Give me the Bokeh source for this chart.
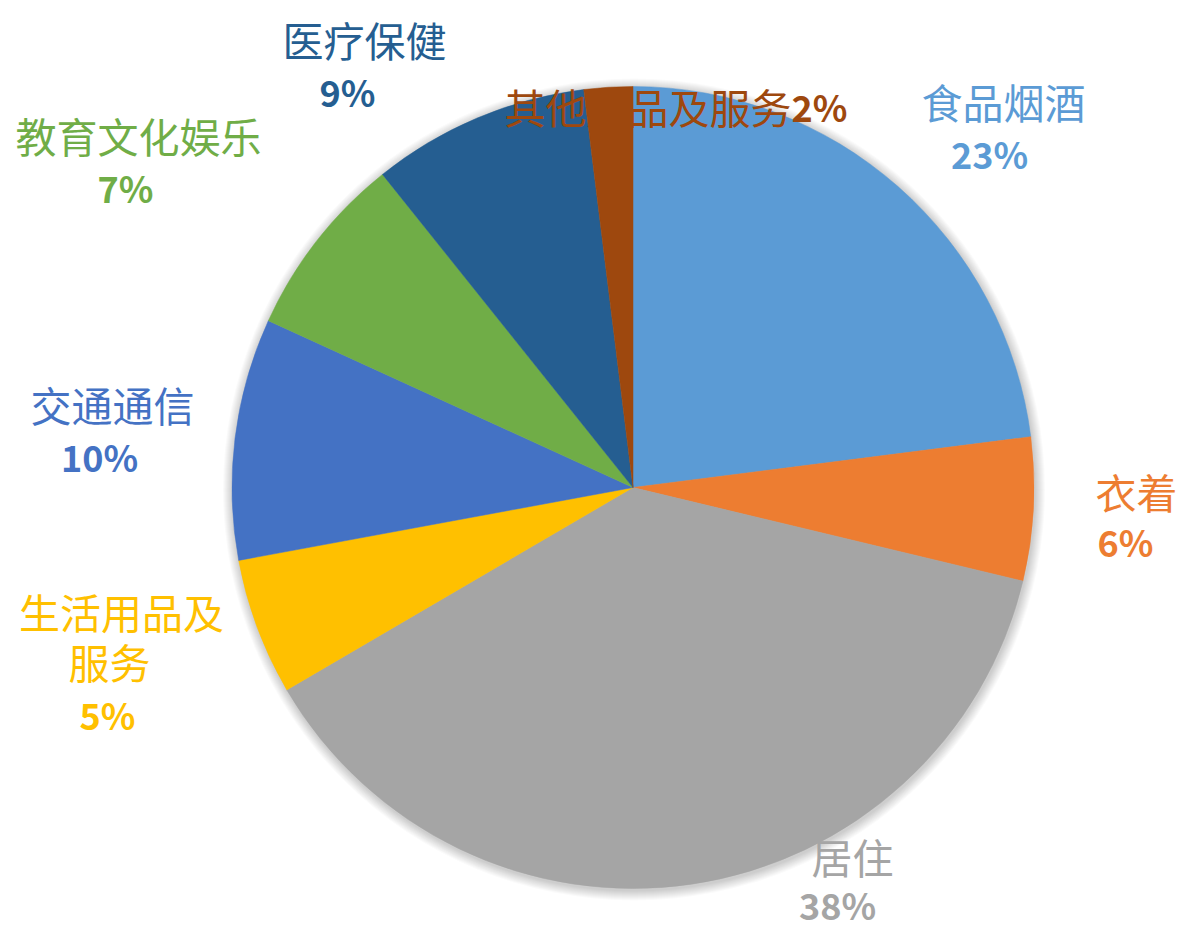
import numpy as np
from bokeh.plotting import figure
from bokeh.models import Range1d, ColumnDataSource
from bokeh.core.properties import value
from bokeh.embed import file_html
from bokeh.resources import INLINE

# ---- data ----
CATEGORIES = ["食品烟酒", "衣着", "居住", "生活用品及服务", "交通通信", "教育文化娱乐", "医疗保健", "其他用品及服务"]
SHARES = [22.98, 5.77, 37.83, 5.51, 9.74, 7.43, 8.78, 1.96]
PCT_LABELS = ["23%", "6%", "38%", "5%", "10%", "7%", "9%", "2%"]
COLORS = ["#5B9BD5", "#ED7D31", "#A5A5A5", "#FFC000", "#4472C4", "#70AD47", "#255E91", "#9E480E"]

# ---- layout (screen pixel coordinates, y down) ----
W, H = 1179, 929
CX, CY, R = 632.5, 487, 401
NAME_LINES = {
    0: [("食品烟酒", 1003, 100, "center")],
    1: [("衣着", 1136, 490, "center")],
    2: [("居住", 852, 855, "center")],
    3: [("生活用品及", 121, 610, "center"), ("服务", 109, 660, "center")],
    4: [("交通通信", 112, 403, "center")],
    5: [("教育文化娱乐", 138, 134, "center")],
    6: [("医疗保健", 364, 38, "center")],
    7: [("其他用品及服务", 791, 105, "right")],
}
PCT_POS = {
    0: (989, 152, "center"), 1: (1125, 540, "center"), 2: (837, 903, "center"),
    3: (107, 713, "center"), 4: (99, 455, "center"), 5: (125, 186, "center"),
    6: (347, 90, "center"), 7: (791, 105, "left"),
}

def sy(y):
    return H - y

p = figure(width=W, height=H, output_backend="svg", toolbar_location=None,
           x_range=Range1d(0, W), y_range=Range1d(0, H),
           x_axis_location=None, y_axis_location=None, min_border=0)
p.outline_line_color = None
p.grid.visible = False
p.background_fill_color = "white"
p.border_fill_color = "white"

# soft shadow
for k in range(1, 11):
    p.circle(x=CX + 1, y=sy(CY) - 2, radius=R + k, fill_color="black",
             fill_alpha=0.018, line_color=None)

vals = np.array(SHARES, dtype=float)
frac = vals / vals.sum()
cum = np.concatenate([[0], np.cumsum(frac)])
start = np.pi / 2 - cum[1:] * 2 * np.pi
end = np.pi / 2 - cum[:-1] * 2 * np.pi
src = ColumnDataSource(dict(start=start, end=end, color=COLORS))
p.wedge(x=CX, y=sy(CY), radius=R, start_angle="start", end_angle="end",
        fill_color="color", line_color="color", line_width=0.5, source=src)

FONT = value("Noto Sans CJK SC")
for i, color in enumerate(COLORS):
    for (txt, x, y, al) in NAME_LINES[i]:
        p.text(x=[x], y=[sy(y)], text=[txt], text_font=FONT, text_font_size="41px",
               text_color=color, text_align=al, text_baseline="middle")
    x, y, al = PCT_POS[i]
    p.text(x=[x], y=[sy(y)], text=[PCT_LABELS[i]], text_font=FONT, text_font_size="36px",
           text_font_style="bold", text_color=color, text_align=al, text_baseline="middle")

open("out.html", "w").write(file_html(p, INLINE))
